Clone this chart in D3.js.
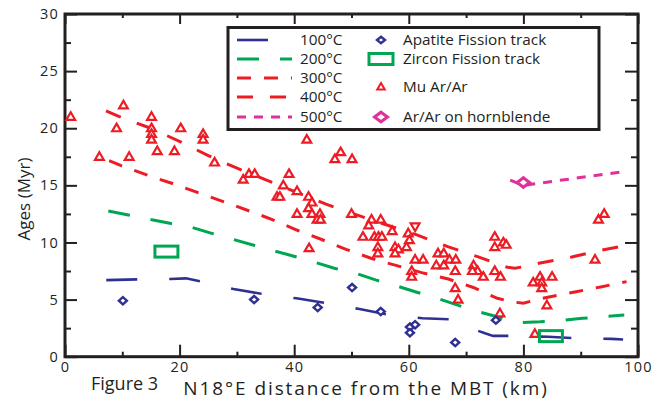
<!DOCTYPE html>
<html>
<head>
<meta charset="utf-8">
<script src="https://cdn.jsdelivr.net/npm/d3@7"></script>
<style>
  html, body { margin: 0; padding: 0; background: #fff; }
  svg { display: block; }
  text { font-family: "Open Sans", sans-serif; fill: #231f20; }
</style>
</head>
<body>
<svg id="chart" width="655" height="407"></svg>
<script>
// ---------- DATA ----------
const xTicksMajor = [0, 20, 40, 60, 80, 100];
const xTicksMinor = [10, 30, 50, 70, 90];
const yTicksMajor = [0, 5, 10, 15, 20, 25, 30];
const yTicksMinor = [2.5, 7.5, 12.5, 17.5, 22.5, 27.5];

// closure-temperature curves [distance km, age Myr]
const iso100 = [[7.2,6.7],[12.6,6.77],[18.3,6.8],[21.1,6.86],[23.8,6.57],[29.4,5.92],[34.0,5.53],[40.4,5.11],[45.8,4.67],[51.4,4.17],[56.7,3.65],[62.4,3.36],[67.2,3.27],[67.9,3.01],[73.3,2.05],[74.7,1.82],[78.5,1.83],[84.3,1.74],[89.7,1.6],[95.4,1.56],[97.4,1.5]];
const iso200 = [[7.56,12.76],[11.05,12.41],[14.8,12.03],[18.3,11.68],[22.1,11.33],[25.6,10.8],[29.3,10.28],[32.8,9.78],[36.4,9.28],[39.8,8.82],[43.6,8.27],[47.0,7.74],[50.8,7.3],[54.2,6.72],[57.9,6.19],[61.4,5.64],[65.0,5.11],[68.4,4.53],[72.1,3.94],[75.6,3.48],[78.5,2.97],[82.9,3.06],[86.7,3.19],[90.3,3.36],[94.1,3.5],[97.6,3.65]];
const iso300 = [[7.7,17.16],[9.9,16.7],[14.26,15.91],[18.62,15.18],[22.98,14.4],[29.67,13.22],[36.07,12.03],[40.44,11.09],[44.68,10.28],[49.04,9.4],[53.4,8.62],[57.9,7.97],[62.25,7.36],[66.9,6.8],[71.26,6.06],[75.45,5.11],[77.8,4.82],[80.0,4.68],[82.5,5.03],[89.2,5.69],[93.7,6.13],[98.0,6.57]];
const iso400 = [[7.16,21.51],[9.48,21.02],[14.96,20.0],[20.07,18.83],[25.0,17.6],[27.75,17.0],[30.24,16.46],[35.4,15.41],[40.6,14.36],[45.55,13.35],[50.9,12.41],[61.4,10.66],[66.8,9.63],[72.0,8.76],[77.2,7.83],[78.5,7.75],[80.1,7.88],[82.7,8.18],[88.25,8.7],[93.7,9.34],[98.0,9.75]];
const iso500 = [[77.7,15.45],[80.0,15.0],[97.5,16.2]];

const apatiteFT = [[10.1,4.9],[33.0,5.0],[44.1,4.3],[50.1,6.05],[55.1,3.95],[60.2,2.6],[61.1,2.8],[60.2,2.1],[68.1,1.25],[75.2,3.2]];
const zirconFT = [[17.7,9.2],[84.8,1.8]];
const hornblende = [[80.0,15.25]];
const muArAr = [
  [1.0,21.0],[10.2,22.0],[9.0,20.0],[6.0,17.5],[11.2,17.5],
  [15.1,21.0],[15.1,20.0],[15.1,19.5],[15.1,19.0],[16.1,18.0],[19.1,18.0],[20.2,20.0],
  [24.1,19.5],[24.1,19.0],[26.1,17.0],[31.1,15.5],[32.1,16.0],[33.1,16.0],
  [37.0,14.0],[37.5,14.0],[38.1,15.0],[39.1,16.0],[40.5,14.5],[42.2,19.0],
  [42.5,14.0],[43.1,13.5],[42.5,13.0],[40.5,12.5],[43.1,12.5],[44.5,12.5],[44.0,12.0],[44.6,12.0],[42.6,9.5],
  [47.1,17.3],[48.1,17.9],[50.1,17.3],[50.0,12.5],[53.5,12.0],[55.1,12.0],[53.0,11.5],
  [52.0,10.5],[54.0,10.5],[54.7,10.5],[55.3,10.5],[57.1,11.0],[59.9,10.8],[60.1,10.2],
  [54.6,9.6],[54.6,9.05],[57.6,9.6],[58.2,9.4],[57.6,9.05],[59.6,9.6],[61.1,8.5],[62.5,8.5],
  [60.5,7.5],[60.5,7.0],[65.1,9.05],[66.1,9.05],[64.8,8.0],[66.1,8.0],[67.1,8.5],[68.2,8.5],
  [68.1,7.5],[68.1,6.0],[68.6,5.0],[71.3,8.0],[72.0,7.5],[71.1,7.5],[73.0,7.0],[75.0,7.5],[76.0,7.0],
  [75.0,10.5],[75.0,9.6],[76.5,10.0],[77.0,9.8],[75.9,3.8],
  [81.7,6.5],[82.9,7.0],[83.2,6.5],[83.2,6.0],[85.0,7.0],[84.1,4.5],[82.0,2.0],
  [93.1,12.0],[94.1,12.5],[92.5,8.5]
];
const muArArInverted = [[61.1,11.4]];

const isoLabels = ["100°C", "200°C", "300°C", "400°C", "500°C"];
const symbolLabels = ["Apatite Fission track", "Zircon Fission track", "Mu Ar/Ar", "Ar/Ar on hornblende"];

// ---------- STYLE ----------
const C = { blue: "#2e3192", green: "#00a651", red: "#ed1c24", pink: "#e0309a", black: "#231f20" };
const isoStyle = [
  { data: iso100, color: C.blue,  dash: "31,32", w: 2.6 },
  { data: iso200, color: C.green, dash: "22,21", w: 3 },
  { data: iso300, color: C.red,   dash: "14,13", w: 3 },
  { data: iso400, color: C.red,   dash: "16,17", w: 3 },
  { data: iso500, color: C.pink,  dash: "9,8",   w: 3 }
];

const svg = d3.select("#chart");
const x = d3.scaleLinear().domain([0, 100]).range([65, 638]);
const y = d3.scaleLinear().domain([0, 30]).range([356.7, 14]);

// ---------- AXES ----------
function styleAxis(g, labels) {
  g.select(".domain").remove();
  g.selectAll(".tick line").attr("stroke", C.black).attr("stroke-width", 2);
  g.selectAll(".tick text").attr("font-size", 14.5).attr("letter-spacing", 1.2).style("fill", C.black);
  if (!labels) g.selectAll(".tick text").remove();
}
svg.append("g").attr("transform", `translate(0,${y(0)})`)
  .call(d3.axisBottom(x).tickValues(xTicksMajor).tickSize(-12).tickPadding(5).tickFormat(d3.format("d")))
  .call(g => styleAxis(g, true));
svg.append("g").attr("transform", `translate(0,${y(0)})`)
  .call(d3.axisBottom(x).tickValues(xTicksMinor).tickSize(-5))
  .call(g => styleAxis(g, false));
svg.append("g").attr("transform", `translate(0,${y(30)})`)
  .call(d3.axisTop(x).tickValues(xTicksMajor).tickSize(-10))
  .call(g => styleAxis(g, false));
svg.append("g").attr("transform", `translate(0,${y(30)})`)
  .call(d3.axisTop(x).tickValues(xTicksMinor).tickSize(-4))
  .call(g => styleAxis(g, false));
svg.append("g").attr("transform", `translate(${x(0)},0)`)
  .call(d3.axisLeft(y).tickValues(yTicksMajor).tickSize(-12).tickPadding(6).tickFormat(d3.format("d")))
  .call(g => styleAxis(g, true));
svg.append("g").attr("transform", `translate(${x(0)},0)`)
  .call(d3.axisLeft(y).tickValues(yTicksMinor).tickSize(-6))
  .call(g => styleAxis(g, false));
svg.append("g").attr("transform", `translate(${x(100)},0)`)
  .call(d3.axisRight(y).tickValues(yTicksMajor).tickSize(-13))
  .call(g => styleAxis(g, false));
svg.append("g").attr("transform", `translate(${x(100)},0)`)
  .call(d3.axisRight(y).tickValues(yTicksMinor).tickSize(-7))
  .call(g => styleAxis(g, false));

// frame
svg.append("rect")
  .attr("x", x(0)).attr("y", y(30))
  .attr("width", x(100) - x(0)).attr("height", y(0) - y(30))
  .attr("fill", "none").attr("stroke", C.black).attr("stroke-width", 3);

// titles
svg.append("text").attr("x", 366).attr("y", 395).attr("text-anchor", "middle")
  .attr("font-size", 19).attr("letter-spacing", 1.9).text("N18°E distance from the MBT (km)");
svg.append("text").attr("x", 91).attr("y", 390)
  .attr("font-size", 18).text("Figure 3");
svg.append("text").attr("transform", "translate(30,199) rotate(-90)").attr("text-anchor", "middle")
  .attr("font-size", 17).text("Ages (Myr)");

// ---------- LINES ----------
const line = d3.line().x(d => x(d[0])).y(d => y(d[1]));
svg.append("g").selectAll("path").data(isoStyle).join("path")
  .attr("d", d => line(d.data))
  .attr("fill", "none").attr("stroke", d => d.color)
  .attr("stroke-width", d => d.w).attr("stroke-dasharray", d => d.dash);

// ---------- MARKERS ----------
const triPath = "M0,-4.6L4.4,3L-4.4,3Z";
const triPathInv = "M0,4.6L4.4,-3L-4.4,-3Z";
const diamondPath = (hw, hh) => `M0,${-hh}L${hw},0L0,${hh}L${-hw},0Z`;

svg.append("g").selectAll("path").data(muArAr).join("path")
  .attr("transform", d => `translate(${x(d[0])},${y(d[1])})`)
  .attr("d", triPath).attr("fill", "#fff").attr("stroke", C.red).attr("stroke-width", 2.2);
svg.append("g").selectAll("path").data(muArArInverted).join("path")
  .attr("transform", d => `translate(${x(d[0])},${y(d[1])})`)
  .attr("d", triPathInv).attr("fill", "#fff").attr("stroke", C.red).attr("stroke-width", 2.2);

svg.append("g").selectAll("path").data(apatiteFT).join("path")
  .attr("transform", d => `translate(${x(d[0])},${y(d[1])})`)
  .attr("d", diamondPath(4, 3.6)).attr("fill", "#fff").attr("stroke", C.blue).attr("stroke-width", 2.4);

svg.append("g").selectAll("rect").data(zirconFT).join("rect")
  .attr("x", d => x(d[0]) - 11.5).attr("y", d => y(d[1]) - 5.5)
  .attr("width", 23).attr("height", 11)
  .attr("fill", "none").attr("stroke", C.green).attr("stroke-width", 3);

svg.append("g").selectAll("path").data(hornblende).join("path")
  .attr("transform", d => `translate(${x(d[0])},${y(d[1])})`)
  .attr("d", diamondPath(6.2, 4.8)).attr("fill", "#fff").attr("stroke", C.pink).attr("stroke-width", 3);

// ---------- LEGEND ----------
const leg = svg.append("g");
leg.append("rect").attr("x", 228).attr("y", 27.5).attr("width", 371).attr("height", 102)
  .attr("fill", "#fff").attr("stroke", C.black).attr("stroke-width", 3);
const rowY1 = [40, 59, 78, 97, 117];
isoStyle.forEach((s, i) => {
  leg.append("line").attr("x1", 237).attr("x2", 292).attr("y1", rowY1[i]).attr("y2", rowY1[i])
    .attr("stroke", s.color).attr("stroke-width", s.w).attr("stroke-dasharray", s.dash);
  leg.append("text").attr("x", 300).attr("y", rowY1[i] + 5.4).attr("font-size", 15.3).text(isoLabels[i]);
});
const rowY2 = [40, 59, 87, 117];
const sx = 381;
leg.append("path").attr("transform", `translate(${sx},${rowY2[0]})`).attr("d", diamondPath(4, 3.2))
  .attr("fill", "#fff").attr("stroke", C.blue).attr("stroke-width", 2.4);
leg.append("rect").attr("x", sx - 12).attr("y", rowY2[1] - 5.5).attr("width", 24).attr("height", 11)
  .attr("fill", "none").attr("stroke", C.green).attr("stroke-width", 3);
leg.append("path").attr("transform", `translate(${sx},${rowY2[2]})`).attr("d", "M0,-4L3.8,2.6L-3.8,2.6Z")
  .attr("fill", "#fff").attr("stroke", C.red).attr("stroke-width", 2);
leg.append("path").attr("transform", `translate(${sx},${rowY2[3]})`).attr("d", diamondPath(6.5, 4.8))
  .attr("fill", "#fff").attr("stroke", C.pink).attr("stroke-width", 3);
symbolLabels.forEach((t, i) => {
  leg.append("text").attr("x", 403).attr("y", rowY2[i] + 5.4).attr("font-size", 15.3).text(t);
});
</script>
</body>
</html>
